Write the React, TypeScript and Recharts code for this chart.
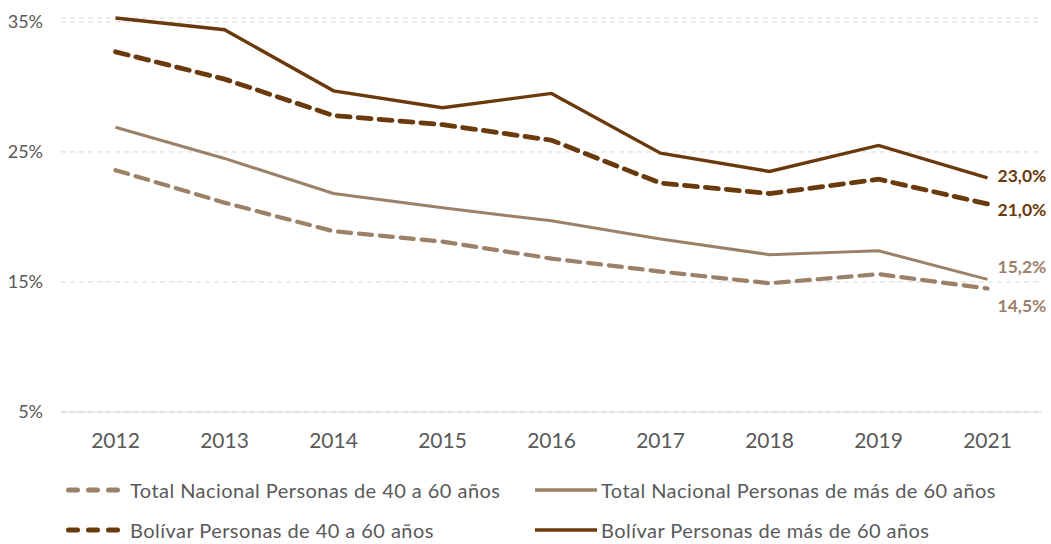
import { CartesianGrid, LabelList, Legend, Line, LineChart, XAxis, YAxis } from "recharts";

const years = ["2012", "2013", "2014", "2015", "2016", "2017", "2018", "2019", "2021"];
const totalNac40a60 = [23.6, 21.1, 18.9, 18.1, 16.8, 15.8, 14.9, 15.6, 14.5];
const totalNacMas60 = [26.9, 24.5, 21.8, 20.7, 19.7, 18.3, 17.1, 17.4, 15.2];
const bolivar40a60 = [32.7, 30.6, 27.8, 27.1, 25.9, 22.6, 21.8, 22.9, 21.0];
const bolivarMas60 = [35.3, 34.4, 29.7, 28.4, 29.5, 24.9, 23.5, 25.5, 23.0];
const yTicks = [5, 15, 25, 35];

const data = years.map((year, i) => ({
  year,
  tn40: totalNac40a60[i],
  tn60: totalNacMas60[i],
  b40: bolivar40a60[i],
  b60: bolivarMas60[i],
}));

const DARK = "#6b3a0c";
const LIGHT = "#9c8068";
const FONT = "Lato, 'Open Sans', sans-serif";

// legend order: row by row
const series = [
  { key: "tn40", name: "Total Nacional Personas de 40 a 60 años", color: LIGHT, width: 4.2, dash: "13 8", labelDy: 17 },
  { key: "tn60", name: "Total Nacional Personas de más de 60 años", color: LIGHT, width: 3, dash: undefined, labelDy: -13 },
  { key: "b40", name: "Bolívar Personas de 40 a 60 años", color: DARK, width: 4.8, dash: "13 8", labelDy: 6 },
  { key: "b60", name: "Bolívar Personas de más de 60 años", color: DARK, width: 3.4, dash: undefined, labelDy: -2 },
];

const fmt = (v: number) => v.toFixed(1).replace(".", ",") + "%";

function EndLabel(props: any) {
  const { x, y, value, index, color, dy } = props;
  if (index !== years.length - 1) return null;
  return (
    <text
      x={x + 10}
      y={y + dy}
      fill={color}
      fontSize={17.5}
      fontWeight={700}
      fontFamily={FONT}
      dominantBaseline="central"
    >
      {fmt(value)}
    </text>
  );
}

function CustomLegend() {
  const cols = [62, 533];
  return (
    <div style={{ position: "relative", width: 1051, height: 80, fontFamily: FONT }}>
      {series.map((s, i) => {
        const col = i % 2;
        const row = Math.floor(i / 2);
        return (
          <div
            key={s.key}
            style={{
              position: "absolute",
              left: cols[col],
              top: row * 40,
              display: "flex",
              alignItems: "center",
              height: 20,
            }}
          >
            <svg width={66} height={10}>
              {s.dash ? (
                <line x1={6.5} y1={5} x2={58} y2={5} stroke={s.color} strokeWidth={5} strokeDasharray="9 11" strokeLinecap="round" />
              ) : (
                <line x1={2} y1={5} x2={64} y2={5} stroke={s.color} strokeWidth={3.5} />
              )}
            </svg>
            <span style={{ color: "#595959", fontSize: 20, letterSpacing: 0.45, marginLeft: 2, whiteSpace: "nowrap" }}>
              {s.name}
            </span>
          </div>
        );
      })}
    </div>
  );
}

export default function App() {
  return (
    <div style={{ position: "absolute", left: 0, top: 0, background: "#fff" }}>
      <LineChart width={1051} height={544} data={data} margin={{ top: 18, right: 9, left: 0, bottom: 8 }}>
        <CartesianGrid horizontal vertical={false} stroke="#d9d9d9" strokeDasharray="5 4" />
        <XAxis
          dataKey="year"
          axisLine={{ stroke: "#d9d9d9" }}
          tickLine={false}
          height={44}
          tickMargin={15}
          padding={{ left: 54.5, right: 54.5 }}
          tick={{ fill: "#595959", fontSize: 21, fontFamily: FONT }}
        />
        <YAxis
          domain={[5, 35]}
          ticks={yTicks}
          width={61}
          axisLine={false}
          tickLine={false}
          tickMargin={12}
          tickFormatter={(v: number) => `${v}%`}
          tick={{ fill: "#595959", fontSize: 18, fontFamily: FONT }}
        />
        <Legend
          content={() => <CustomLegend />}
          wrapperStyle={{ position: "absolute", left: 0, top: 480, width: 1051 }}
        />
        {series.map((s) => (
          <Line
            key={s.key}
            dataKey={s.key}
            name={s.name}
            stroke={s.color}
            strokeWidth={s.width}
            strokeDasharray={s.dash}
            strokeLinecap={s.dash ? "round" : "butt"}
            dot={false}
            activeDot={false}
            isAnimationActive={false}
          >
            <LabelList
              dataKey={s.key}
              content={(p: any) => <EndLabel {...p} color={s.color} dy={s.labelDy} />}
            />
          </Line>
        ))}
      </LineChart>
    </div>
  );
}
